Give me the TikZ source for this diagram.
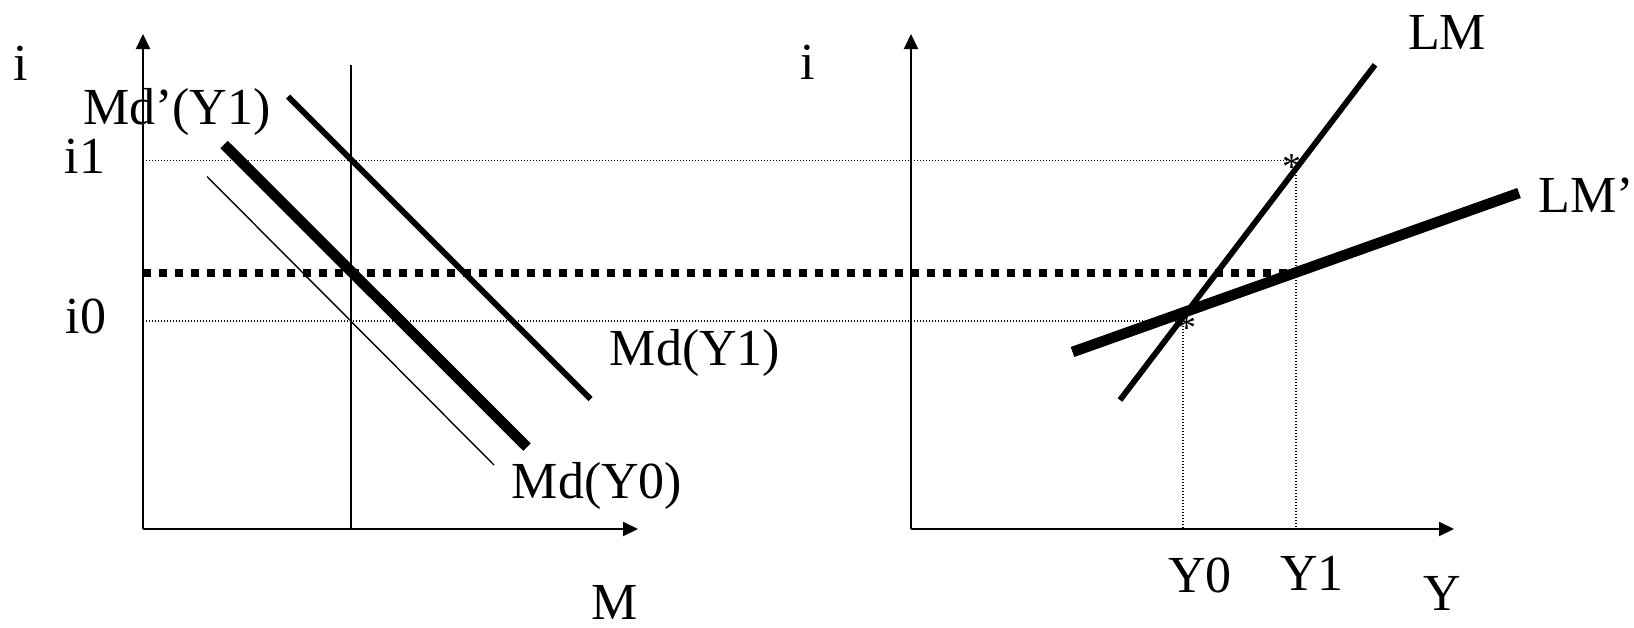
\documentclass[tikz,border=0pt]{standalone}
\usepackage{fontspec}
\setmainfont{Liberation Serif}
\usetikzlibrary{arrows.meta}
\begin{document}
\begin{tikzpicture}[x=0.5pt,y=-0.5pt,
  axis/.style={line width=1pt,-{Triangle[length=7.5pt,width=7pt]}},
  guide/.style={line width=0.6pt,dash pattern=on 0.6pt off 0.9pt},
  level/.style={line width=4pt,dash pattern=on 4pt off 4pt},
  thincurve/.style={line width=0.7pt},
  midcurve/.style={line width=2.9pt},
  thickcurve/.style={line width=5.3pt},
  lbl/.style={font=\fontsize{26}{30}\selectfont,inner sep=0pt,anchor=base},
  starmark/.style={font=\fontsize{19}{19}\selectfont,inner sep=0pt,anchor=base}
]
\useasboundingbox (0,0) rectangle (1634,627);

% ---------- left panel ----------
\coordinate (LO) at (143,529);
\coordinate (LT) at (143,34);
\coordinate (LR) at (638,529);
\draw[axis] (LO) -- (LT);
\draw[axis] (LO) -- (LR);

\coordinate (MsTop) at (351,64.6);
\coordinate (MsBot) at (351,529);
\draw[thincurve] (MsTop) -- (MsBot);

\coordinate (MdpA) at (288,96.5);
\coordinate (MdpB) at (590.5,399);
\draw[midcurve] (MdpA) -- (MdpB);

\coordinate (MdkA) at (224,144.5);
\coordinate (MdkB) at (527,447);
\draw[thickcurve] (MdkA) -- (MdkB);

\coordinate (MdtA) at (207,176.5);
\coordinate (MdtB) at (494,465);
\draw[thincurve] (MdtA) -- (MdtB);

% ---------- right panel ----------
\coordinate (RO) at (911,529);
\coordinate (RT) at (911,34);
\coordinate (RR) at (1454,529);
\draw[axis] (RO) -- (RT);
\draw[axis] (RO) -- (RR);

\coordinate (LMA) at (1120,400);
\coordinate (LMB) at (1375,64.8);
\draw[midcurve] (LMA) -- (LMB);

\coordinate (LMpA) at (1072.5,352);
\coordinate (LMpB) at (1519,193);
\draw[thickcurve] (LMpA) -- (LMpB);

% ---------- guides ----------
\coordinate (i1L) at (143,160.5);
\coordinate (i1R) at (1290,160.5);
\draw[guide] (i1L) -- (i1R);
\coordinate (i0L) at (143,321);
\coordinate (i0R) at (1183,321);
\draw[guide] (i0L) -- (i0R);
\coordinate (Y1T) at (1296,166);
\coordinate (Y1B) at (1296,529);
\draw[guide] (Y1T) -- (Y1B);
\coordinate (Y0T) at (1183,326);
\coordinate (Y0B) at (1183,529);
\draw[guide] (Y0T) -- (Y0B);

\coordinate (lvL) at (143,273);
\coordinate (lvR) at (1290,273);
\draw[level] (lvL) -- (lvR);

\node[starmark] (s1) at (1292,179) {*};
\node[starmark] (s0) at (1187,340) {*};

% ---------- labels ----------
\node[lbl] (iL) at (21,80) {i};
\node[lbl] (li1) at (85,173) {i1};
\node[lbl] (li0) at (86,333) {i0};
\node[lbl] (lMdp) at (177,124) {Md’(Y1)};
\node[lbl] (lMd1) at (695,365) {Md(Y1)};
\node[lbl] (lMd0) at (597,498) {Md(Y0)};
\node[lbl] (lM) at (614.5,619) {M};
\node[lbl] (iR) at (808,79) {i};
\node[lbl] (lLM) at (1447,49) {LM};
\node[lbl] (lLMp) at (1586,212) {LM’};
\node[lbl] (lY0) at (1200,592) {Y0};
\node[lbl] (lY1) at (1312,590) {Y1};
\node[lbl] (lY) at (1442,610) {Y};
\end{tikzpicture}
\end{document}
